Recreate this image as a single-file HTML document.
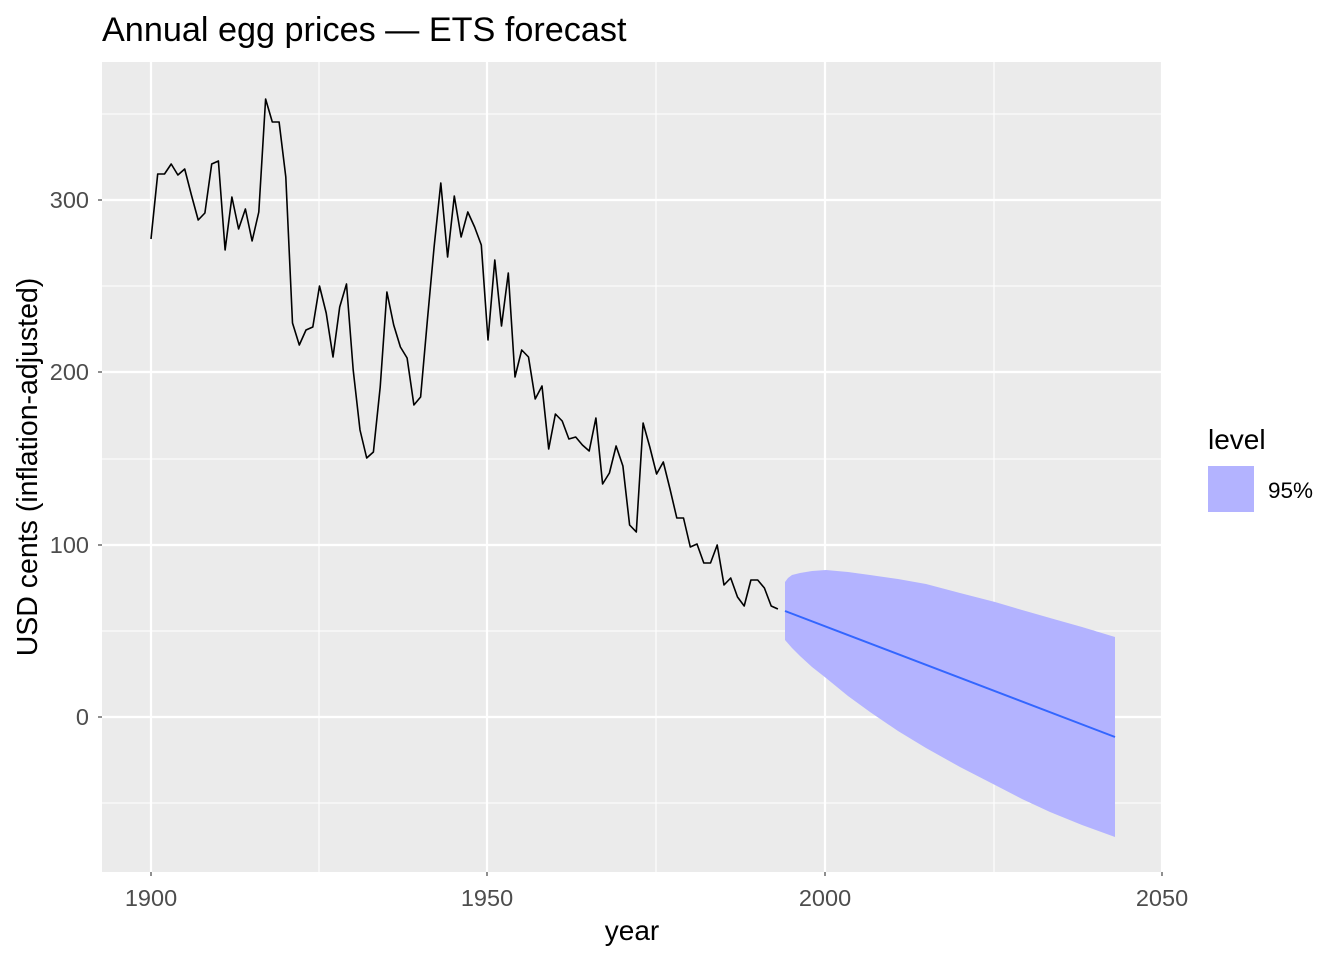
<!DOCTYPE html>
<html><head><meta charset="utf-8"><style>
body{margin:0;background:#fff;}
svg{display:block;font-family:"Liberation Sans",Arial,sans-serif;}
</style></head><body>
<svg width="1344" height="960" viewBox="0 0 1344 960">
<rect x="0" y="0" width="1344" height="960" fill="#fff"/>
<rect x="102" y="62" width="1060" height="810" fill="#ebebeb"/>
<g stroke="#fff" stroke-width="1.1">
<line x1="102" x2="1162" y1="286" y2="286"/><line x1="102" x2="1162" y1="459" y2="459"/>
<line x1="102" x2="1162" y1="631" y2="631"/><line x1="102" x2="1162" y1="803" y2="803"/>
<line x1="102" x2="1162" y1="114" y2="114"/>
<line y1="62" y2="872" x1="319" x2="319"/><line y1="62" y2="872" x1="656" x2="656"/><line y1="62" y2="872" x1="994" x2="994"/>
</g>
<g stroke="#fff" stroke-width="2.2">
<line x1="102" x2="1162" y1="200" y2="200"/><line x1="102" x2="1162" y1="372" y2="372"/>
<line x1="102" x2="1162" y1="545" y2="545"/><line x1="102" x2="1162" y1="717" y2="717"/>
<line y1="62" y2="872" x1="151" x2="151"/><line y1="62" y2="872" x1="487" x2="487"/><line y1="62" y2="872" x1="825" x2="825"/><line y1="62" y2="872" x1="1162" x2="1162"/>
</g>
<polygon fill="#b3b3ff" points="785,582 788,578 792,575 800,573 812,571 826,570 848,572 870,575 898,579 926,584 960,593 995,602 1022,610 1050,618 1082,627 1115,637 1115,837 1082,825 1050,812 1022,799 995,785 960,767 926,748 898,731 870,712 848,696 826,678 812,667 800,656 792,648 785,640"/>
<line x1="785" y1="611" x2="1115" y2="737" stroke="#3366ff" stroke-width="2"/>
<polyline fill="none" stroke="#000" stroke-width="1.6" stroke-linejoin="round" points="151,239 157.7,174 164.5,174 171.2,164 177.9,175 184.7,169 191.4,195 198.2,220 204.9,213 211.7,164 218.4,161 225.1,250 231.9,197 238.6,229 245.4,209 252.1,241 258.8,212 265.6,99 272.3,122 279.1,122 285.8,177 292.5,323 299.3,345 306,330 312.8,327 319.5,286 326.2,313 333,357 339.7,307 346.5,284 353.2,370 360,430 366.7,458 373.4,452 380.2,387 386.9,292 393.7,325 400.4,347 407.1,358 413.9,405 420.6,397 427.4,320 434.1,247 440.8,183 447.6,257 454.3,196 461.1,237 467.8,212 474.6,227 481.3,245 488,340 494.8,260 501.5,326 508.3,273 515,377 521.7,350 528.5,357 535.2,399 542,386 548.7,449 555.4,414 562.2,421 568.9,439 575.7,437 582.4,445 589.2,451 595.9,418 602.6,484 609.4,473 616.1,446 622.9,466 629.6,525 636.3,532 643.1,423 649.8,447 656.6,474 663.3,462 670,489 676.8,518 683.5,518 690.3,547 697,544 703.8,563 710.5,563 717.2,545 724,585 730.7,578 737.5,597 744.2,606 750.9,580 757.7,580 764.4,588 771.2,606 777.9,609"/>
<g stroke="#333" stroke-width="1.1">
<line x1="98" x2="102" y1="200" y2="200"/><line x1="98" x2="102" y1="372" y2="372"/><line x1="98" x2="102" y1="545" y2="545"/><line x1="98" x2="102" y1="717" y2="717"/>
<line y1="872" y2="876" x1="151" x2="151"/><line y1="872" y2="876" x1="487" x2="487"/><line y1="872" y2="876" x1="825" x2="825"/><line y1="872" y2="876" x1="1162" x2="1162"/>
</g>
<g fill="#4d4d4d" font-size="23.5" text-anchor="end">
<text x="89" y="208">300</text><text x="89" y="380">200</text><text x="89" y="553">100</text><text x="89" y="725">0</text>
</g>
<g fill="#4d4d4d" font-size="23.5" text-anchor="middle">
<text x="151" y="906">1900</text><text x="487" y="906">1950</text><text x="825" y="906">2000</text><text x="1162" y="906">2050</text>
</g>
<text x="632" y="940" font-size="28" text-anchor="middle" fill="#000">year</text>
<text transform="translate(37,467) rotate(-90)" font-size="28.5" text-anchor="middle" fill="#000">USD cents (inflation-adjusted)</text>
<text x="102" y="41" font-size="34.2" fill="#000">Annual egg prices — ETS forecast</text>
<text x="1208" y="449" font-size="28" fill="#000">level</text>
<rect x="1208" y="466" width="46" height="46" fill="#b3b3ff"/>
<text x="1268" y="498" font-size="22.5" fill="#000">95%</text>
</svg>
</body></html>
